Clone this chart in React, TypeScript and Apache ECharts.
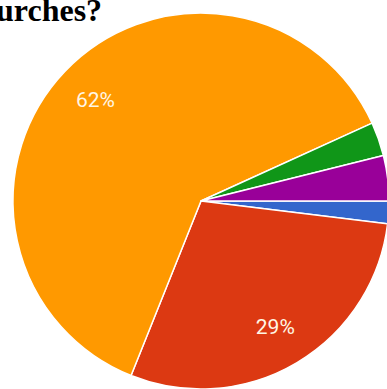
import React, { useEffect, useRef } from "react";
import * as echarts from "echarts";

const categories = ["Option 1", "Option 2", "Option 3", "Option 4", "Option 5"];
const counts = [2, 30, 64, 3, 4];
const colors = ["#3366cc", "#dc3912", "#ff9900", "#109618", "#990099"];
const titleText = "urches?";

export default function App() {
  const ref = useRef<HTMLDivElement>(null);
  useEffect(() => {
    document.body.style.margin = "0";
    const chart = echarts.init(ref.current!, null, { renderer: "svg" });
    const data = categories.map((c, i) => ({ name: c, value: counts[i], itemStyle: { color: colors[i] } }));
    chart.setOption({
      animation: false,
      backgroundColor: "#ffffff",
      graphic: [
        {
          type: "text",
          left: -4,
          top: -6,
          style: {
            text: titleText,
            font: "bold 32px 'Liberation Serif', 'Times New Roman', serif",
            fill: "#000000",
          },
        },
      ],
      series: [
        {
          type: "pie",
          center: [201, 201],
          radius: [0, 188],
          startAngle: 0,
          clockwise: true,
          silent: true,
          label: { show: false },
          labelLine: { show: false },
          itemStyle: { borderColor: "#ffffff", borderWidth: 1.5 },
          data,
        },
        {
          type: "pie",
          center: [201, 201],
          radius: [98, 188],
          startAngle: 0,
          clockwise: true,
          silent: true,
          itemStyle: { color: "transparent", borderWidth: 0 },
          labelLine: { show: false },
          label: {
            show: true,
            position: "inside",
            color: "#fff6e4",
            fontFamily: "Roboto, sans-serif",
            fontSize: 21,
            formatter: (p: any) => (p.percent >= 5 ? Math.round(p.percent) + "%" : ""),
          },
          data: categories.map((c, i) => ({ name: c, value: counts[i] })),
        },
      ],
    });
    return () => chart.dispose();
  }, []);
  return <div ref={ref} style={{ width: 387, height: 389 }} />;
}
